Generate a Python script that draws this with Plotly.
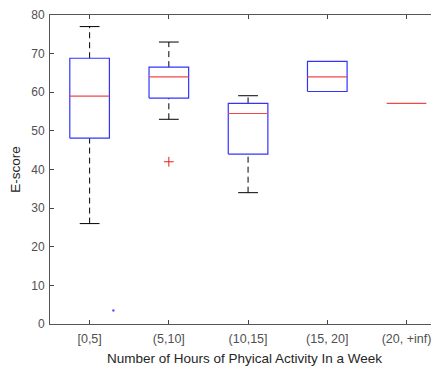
import plotly.graph_objects as go

categories = ["[0,5]", "(5,10]", "(10,15]", "(15, 20]", "(20, +inf)"]
q1 = [48.1, 58.5, 44.0, 60.2, 57.1]
median = [59.0, 64.0, 54.5, 64.0, 57.1]
q3 = [68.8, 66.5, 57.1, 68.0, 57.1]
lower_whisker = [26.0, 53.0, 34.0, 60.2, 57.1]
upper_whisker = [77.0, 73.0, 59.1, 68.0, 57.1]
outlier_cat = ["(5,10]"]
outlier_val = [42.0]
stray_x = [1.3]
stray_y = [3.5]
yticks = [0, 10, 20, 30, 40, 50, 60, 70, 80]

BOX_HALF = 0.25
CAP_HALF = 0.125
pos = {c: i + 1 for i, c in enumerate(categories)}

wx, wy, cx, cy, bx, by, mx, my = [], [], [], [], [], [], [], []
for c, a, m, b, lo, hi in zip(categories, q1, median, q3, lower_whisker, upper_whisker):
    p = pos[c]
    if hi > b:
        wx += [p, p, None]
        wy += [b, hi, None]
        cx += [p - CAP_HALF, p + CAP_HALF, None]
        cy += [hi, hi, None]
    if lo < a:
        wx += [p, p, None]
        wy += [lo, a, None]
        cx += [p - CAP_HALF, p + CAP_HALF, None]
        cy += [lo, lo, None]
    if b > a:
        bx += [p - BOX_HALF, p + BOX_HALF, p + BOX_HALF, p - BOX_HALF, p - BOX_HALF, None]
        by += [a, a, b, b, a, None]
    mx += [p - BOX_HALF, p + BOX_HALF, None]
    my += [m, m, None]

fig = go.Figure()
fig.add_trace(go.Scatter(x=wx, y=wy, mode="lines", line=dict(color="black", width=1, dash="6px,4px"), hoverinfo="skip"))
fig.add_trace(go.Scatter(x=cx, y=cy, mode="lines", line=dict(color="black", width=1), hoverinfo="skip"))
fig.add_trace(go.Scatter(x=bx, y=by, mode="lines", line=dict(color="#3333ff", width=1.2), hoverinfo="skip"))
fig.add_trace(go.Scatter(x=mx, y=my, mode="lines", line=dict(color="#f04848", width=1.2), hoverinfo="skip"))
fig.add_trace(go.Scatter(x=[pos[c] for c in outlier_cat], y=outlier_val, mode="markers",
                         marker=dict(symbol="cross-thin", size=7, line=dict(color="#e02020", width=1)),
                         hoverinfo="skip"))
fig.add_trace(go.Scatter(x=stray_x, y=stray_y, mode="markers",
                         marker=dict(symbol="square", size=2, color="#3030ff"), hoverinfo="skip"))

fig.update_layout(
    width=431, height=358,
    margin=dict(l=42, r=0, t=7, b=42, autoexpand=False),
    paper_bgcolor="white", plot_bgcolor="white",
    showlegend=False,
    font=dict(family="Liberation Sans, Arial, sans-serif", size=12.5, color="#505050"),
    xaxis=dict(
        range=[0.5, 5.41], automargin=False,
        tickmode="array", tickvals=[pos[c] for c in categories], ticktext=categories,
        ticks="inside", ticklen=4, tickcolor="#444", showline=True, linecolor="#555",
        linewidth=1, mirror="ticks", showgrid=False, zeroline=False,
        ticklabelstandoff=3, ticklabeloverflow="allow",
        title=dict(text="Number of Hours of Phyical Activity In a Week",
                   font=dict(size=13.5, color="#262626"), standoff=8),
    ),
    yaxis=dict(
        range=[0, 80], automargin=False,
        tickmode="array", tickvals=yticks, tickfont=dict(size=12),
        ticks="inside", ticklen=4, tickcolor="#444", showline=True, linecolor="#555",
        linewidth=1, mirror="ticks", showgrid=False, zeroline=False,
        ticklabelstandoff=2, ticklabeloverflow="allow",
        title=dict(text="E-score", font=dict(size=13.5, color="#262626"), standoff=10),
    ),
)
fig.write_html("out.html")
